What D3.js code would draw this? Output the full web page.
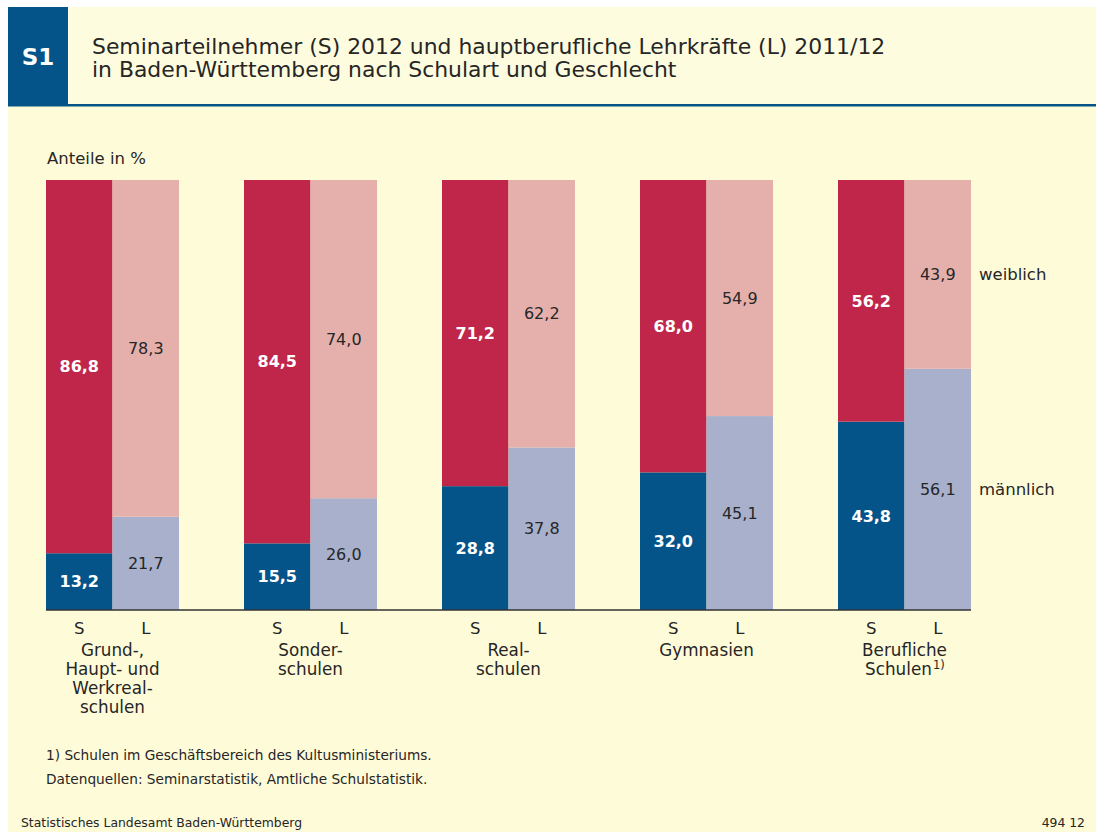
<!DOCTYPE html>
<html>
<head>
<meta charset="utf-8">
<script src="https://cdn.jsdelivr.net/npm/d3@7/dist/d3.min.js"></script>
<style>
  html, body { margin: 0; padding: 0; background: #fff; }
  svg { display: block; font-family: "DejaVu Sans", "Noto Sans", sans-serif; }
</style>
</head>
<body>
<svg id="chart" width="1096" height="832"></svg>
<script>
// data
const categories = ["Grund", "Sonder", "Real", "Gym", "Beruf"];
const catLabels = [
  ["Grund-,", "Haupt- und", "Werkreal-", "schulen"],
  ["Sonder-", "schulen"],
  ["Real-", "schulen"],
  ["Gymnasien"],
  ["Berufliche", "Schulen"]
];
const barKeys = ["S", "L"];
const sWeiblich = [86.8, 84.5, 71.2, 68.0, 56.2];
const sMaennlich = [13.2, 15.5, 28.8, 32.0, 43.8];
const lWeiblich = [78.3, 74.0, 62.2, 54.9, 43.9];
const lMaennlich = [21.7, 26.0, 37.8, 45.1, 56.1];

const colors = {
  S: { m: "#04548a", w: "#c02649" },
  L: { m: "#a8b0cc", w: "#e5b0ac" }
};

const svg = d3.select("#chart");
const fmt = v => d3.format(".1f")(v).replace(".", ",");
const ink = "#262626";

// background panel + header
svg.append("rect").attr("x", 8).attr("y", 7).attr("width", 1088).attr("height", 825).attr("fill", "#fefbd9");
svg.append("rect").attr("x", 8).attr("y", 7).attr("width", 1088).attr("height", 97).attr("fill", "#fefcdf");
svg.append("rect").attr("x", 8).attr("y", 7).attr("width", 60).attr("height", 97).attr("fill", "#04548a");
svg.append("rect").attr("x", 8).attr("y", 104).attr("width", 1088).attr("height", 2.5).attr("fill", "#04548a");
svg.append("text").attr("x", 38).attr("y", 65).attr("text-anchor", "middle")
  .attr("fill", "#fff").attr("font-size", 23).attr("font-weight", "bold").text("S1");
svg.append("text").attr("x", 92).attr("y", 54).attr("font-size", 21.9).attr("fill", ink)
  .text("Seminarteilnehmer (S) 2012 und hauptberufliche Lehrkräfte (L) 2011/12");
svg.append("text").attr("x", 92).attr("y", 77).attr("font-size", 21.9).attr("fill", ink)
  .text("in Baden-Württemberg nach Schulart und Geschlecht");

svg.append("text").attr("x", 47).attr("y", 164).attr("font-size", 16.5).attr("fill", ink).text("Anteile in %");

// scales
const x0 = d3.scaleBand().domain(categories).range([46, 971]).paddingInner(65 / 198).paddingOuter(0);
const x1 = d3.scaleBand().domain(barKeys).range([0, x0.bandwidth()]);
const y = d3.scaleLinear().domain([0, 100]).range([610, 180]);

// segment table
const segs = [];
categories.forEach((c, i) => {
  segs.push({ c, k: "S", g: "m", y0: 0, y1: sMaennlich[i], v: sMaennlich[i] });
  segs.push({ c, k: "S", g: "w", y0: sMaennlich[i], y1: sMaennlich[i] + sWeiblich[i], v: sWeiblich[i] });
  segs.push({ c, k: "L", g: "m", y0: 0, y1: lMaennlich[i], v: lMaennlich[i] });
  segs.push({ c, k: "L", g: "w", y0: lMaennlich[i], y1: lMaennlich[i] + lWeiblich[i], v: lWeiblich[i] });
});

const bars = svg.append("g");
bars.selectAll("rect").data(segs).join("rect")
  .attr("x", d => x0(d.c) + x1(d.k))
  .attr("width", x1.bandwidth())
  .attr("y", d => y(d.y1))
  .attr("height", d => y(d.y0) - y(d.y1))
  .attr("fill", d => colors[d.k][d.g]);

bars.selectAll("text").data(segs).join("text")
  .attr("x", d => x0(d.c) + x1(d.k) + x1.bandwidth() / 2)
  .attr("y", d => (y(d.y0) + y(d.y1)) / 2)
  .attr("dy", "0.36em")
  .attr("text-anchor", "middle")
  .attr("font-size", 16)
  .attr("font-weight", d => d.k === "S" ? "bold" : "normal")
  .attr("fill", d => d.k === "S" ? "#fff" : ink)
  .text(d => fmt(d.v));

// baseline
svg.append("line").attr("x1", 46).attr("x2", 971).attr("y1", y(0)).attr("y2", y(0))
  .attr("stroke", "#333").attr("stroke-width", 1.5);

// S / L under each bar
categories.forEach(c => {
  barKeys.forEach(k => {
    svg.append("text").attr("x", x0(c) + x1(k) + x1.bandwidth() / 2).attr("y", 634)
      .attr("text-anchor", "middle").attr("font-size", 16.5).attr("fill", ink).text(k);
  });
});

// category labels, one text per line
categories.forEach((c, i) => {
  const cx = x0(c) + x0.bandwidth() / 2;
  catLabels[i].forEach((line, j) => {
    const shift = (c === "Beruf" && j === 1) ? -6 : 0;
    const t = svg.append("text").attr("x", cx + shift).attr("y", 656 + j * 19)
      .attr("text-anchor", "middle").attr("font-size", 16.8).attr("fill", ink).text(line);
    if (c === "Beruf" && j === 1) {
      const w = t.node().getComputedTextLength();
      svg.append("text").attr("x", cx + shift + w / 2 + 1).attr("y", 656 + j * 19 - 6)
        .attr("font-size", 11.5).attr("fill", ink).text("1)");
    }
  });
});

// legend next to last L bar
const last = categories.length - 1;
const legX = x0(categories[last]) + x0.bandwidth() + 8;
svg.append("text").attr("x", legX).attr("y", y(lMaennlich[last] + lWeiblich[last] / 2)).attr("dy", "0.36em")
  .attr("font-size", 16.5).attr("fill", ink).text("weiblich");
svg.append("text").attr("x", legX).attr("y", y(lMaennlich[last] / 2)).attr("dy", "0.36em")
  .attr("font-size", 16.5).attr("fill", ink).text("männlich");

// footnotes
svg.append("text").attr("x", 46).attr("y", 760).attr("font-size", 13.7).attr("fill", ink)
  .text("1) Schulen im Geschäftsbereich des Kultusministeriums.");
svg.append("text").attr("x", 46).attr("y", 784).attr("font-size", 13.7).attr("fill", ink)
  .text("Datenquellen: Seminarstatistik, Amtliche Schulstatistik.");
svg.append("text").attr("x", 21).attr("y", 827).attr("font-size", 12.4).attr("fill", ink)
  .text("Statistisches Landesamt Baden-Württemberg");
svg.append("text").attr("x", 1085).attr("y", 827).attr("text-anchor", "end").attr("font-size", 12.4).attr("fill", ink)
  .text("494 12");
</script>
</body>
</html>
